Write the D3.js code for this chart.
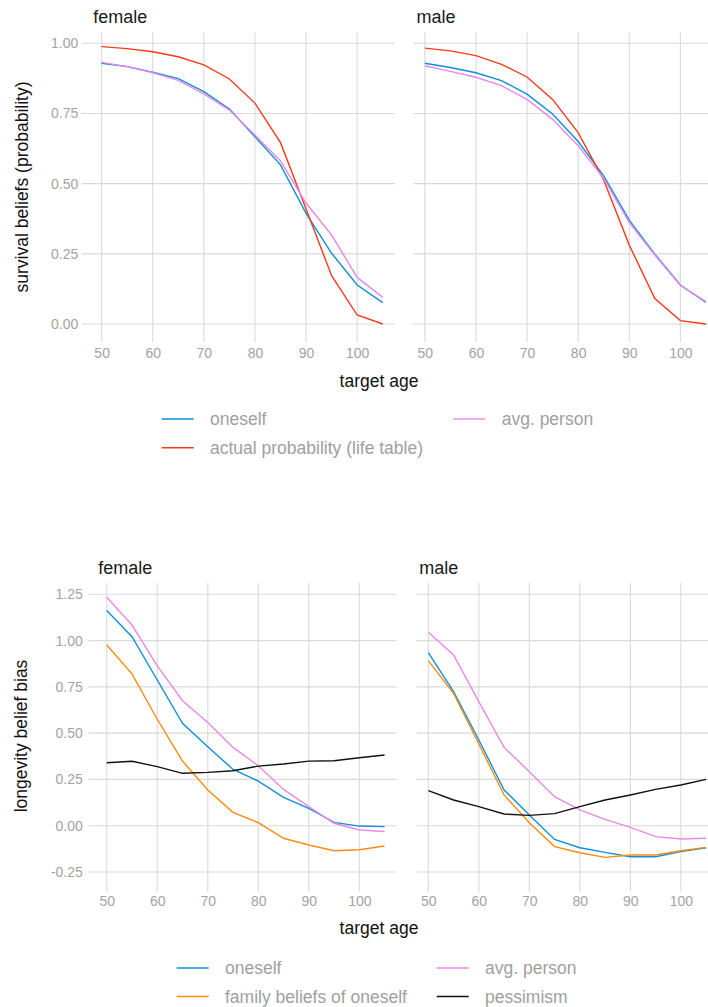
<!DOCTYPE html>
<html>
<head>
<meta charset="utf-8">
<script src="https://cdn.jsdelivr.net/npm/d3@7"></script>
<style>
  body { margin: 0; background: white; }
  text { font-family: "Liberation Sans", Arial, sans-serif; }
</style>
</head>
<body>
<main></main>
<script>
// target ages (x) and tick values
const AGES = [50, 55, 60, 65, 70, 75, 80, 85, 90, 95, 100, 105];
const X_TICKS = [50, 60, 70, 80, 90, 100];
const SURV_TICKS = [0, 0.25, 0.5, 0.75, 1];
const BIAS_TICKS = [-0.25, 0, 0.25, 0.5, 0.75, 1, 1.25];

// survival beliefs
const survFemaleOneself = [0.929, 0.917, 0.897, 0.874, 0.828, 0.766, 0.667, 0.567, 0.394, 0.252, 0.139, 0.076];
const survFemaleActual  = [0.988, 0.981, 0.970, 0.952, 0.923, 0.873, 0.787, 0.646, 0.410, 0.172, 0.032, 0.000];
const survFemaleAvg     = [0.932, 0.917, 0.895, 0.868, 0.820, 0.762, 0.673, 0.581, 0.430, 0.317, 0.166, 0.095];
const survMaleOneself   = [0.929, 0.914, 0.895, 0.867, 0.819, 0.748, 0.650, 0.528, 0.370, 0.249, 0.139, 0.077];
const survMaleActual    = [0.983, 0.973, 0.956, 0.925, 0.880, 0.800, 0.682, 0.513, 0.281, 0.091, 0.012, 0.000];
const survMaleAvg       = [0.920, 0.900, 0.879, 0.849, 0.800, 0.729, 0.635, 0.519, 0.361, 0.246, 0.137, 0.080];

// longevity belief bias
const biasFemaleOneself = [1.162, 1.021, 0.787, 0.553, 0.427, 0.304, 0.241, 0.153, 0.094, 0.018, -0.002, -0.005];
const biasFemaleFamily  = [0.976, 0.820, 0.575, 0.349, 0.193, 0.072, 0.016, -0.068, -0.104, -0.135, -0.130, -0.110];
const biasFemaleAvg     = [1.234, 1.084, 0.863, 0.675, 0.557, 0.423, 0.324, 0.196, 0.103, 0.013, -0.023, -0.031];
const biasFemalePess    = [0.340, 0.348, 0.319, 0.283, 0.288, 0.297, 0.322, 0.333, 0.349, 0.351, 0.367, 0.382];
const biasMaleOneself   = [0.935, 0.724, 0.463, 0.193, 0.058, -0.074, -0.119, -0.144, -0.168, -0.168, -0.140, -0.119];
const biasMaleFamily    = [0.892, 0.715, 0.441, 0.166, 0.016, -0.113, -0.146, -0.171, -0.158, -0.158, -0.135, -0.117];
const biasMaleAvg       = [1.045, 0.922, 0.670, 0.423, 0.292, 0.157, 0.085, 0.034, -0.009, -0.059, -0.072, -0.068];
const biasMalePess      = [0.189, 0.139, 0.103, 0.063, 0.056, 0.065, 0.103, 0.139, 0.166, 0.196, 0.220, 0.250];

const SURV_LABELS = ["oneself", "actual probability (life table)", "avg. person"];
const BIAS_LABELS = ["oneself", "family beliefs of oneself", "avg. person", "pessimism"];

const BLUE = "#0f8fd8", RED = "#f7391b", VIOLET = "#ea88ea", ORANGE = "#ff8a12", BLACK = "#111111";
const GRID = "#dadada";
const TICK_GREY = "#a3a3a3";
const LEGEND_GREY = "#a0a0a0";

var svg = d3.select("main").append("svg")
            .attr("width", 708)
            .attr("height", 1007)
            .style("display", "block");

function drawPanel (p) {
    var g = svg.append("g");
    var x = d3.scaleLinear().domain(p.xDomain).range([p.left, p.right]);
    var y = p.y;

    // grid
    g.selectAll(".hgrid").data(p.yTicks).enter().append("line")
     .attr("x1", p.left).attr("x2", p.right)
     .attr("y1", d => y(d)).attr("y2", d => y(d))
     .style("stroke", GRID).style("stroke-width", 1.1);
    g.selectAll(".vgrid").data(X_TICKS).enter().append("line")
     .attr("x1", d => x(d)).attr("x2", d => x(d))
     .attr("y1", p.top).attr("y2", p.bottom)
     .style("stroke", GRID).style("stroke-width", 1.1);

    // series
    var line = d3.line().x((d, i) => x(AGES[i])).y(d => y(d));
    p.series.forEach(function (s) {
        g.append("path")
         .datum(s.values)
         .attr("d", line)
         .style("fill", "none")
         .style("stroke", s.color)
         .style("stroke-width", 1.4);
    });

    // x axis labels
    var xAxis = g.append("g")
                 .attr("transform", "translate(0," + p.bottom + ")")
                 .call(d3.axisBottom(x).tickValues(X_TICKS).tickSize(0).tickPadding(p.xPad).tickFormat(d3.format("d")));
    xAxis.select(".domain").remove();
    xAxis.selectAll("text").style("fill", TICK_GREY).style("font-size", "14px")
         .style("font-family", "Liberation Sans, Arial, sans-serif");

    // y axis labels (left panels only)
    if (p.showY) {
        var yAxis = g.append("g")
                     .attr("transform", "translate(" + p.left + ",0)")
                     .call(d3.axisLeft(y).tickValues(p.yTicks).tickSize(0).tickPadding(p.yPad)
                                .tickFormat(d => d.toFixed(2)));
        yAxis.select(".domain").remove();
        yAxis.selectAll("text").style("fill", TICK_GREY).style("font-size", "14px")
             .style("font-family", "Liberation Sans, Arial, sans-serif");
    }

    // strip title
    g.append("text")
     .text(p.title)
     .attr("x", x(50) - p.titleOffset)
     .attr("y", p.titleY)
     .style("font-size", "18px")
     .style("fill", "#1a1a1a");
}

function drawLegend (items, cols, rowYs) {
    items.forEach(function (it, i) {
        var col = cols[it.col];
        var ry = rowYs[it.row];
        svg.append("line")
           .attr("x1", col.key).attr("x2", col.key + 32)
           .attr("y1", ry).attr("y2", ry)
           .style("stroke", it.color).style("stroke-width", 1.4);
        svg.append("text")
           .text(it.label)
           .attr("x", col.text).attr("y", ry).attr("dy", "0.35em")
           .style("font-size", "17.5px")
           .style("fill", LEGEND_GREY);
    });
}

function axisTitles (xTitleY, yTitleX, yTitleY, yTitle) {
    svg.append("text").text("target age")
       .attr("x", 379).attr("y", xTitleY)
       .style("text-anchor", "middle").style("font-size", "17.5px").style("fill", "#111");
    svg.append("text").text(yTitle)
       .attr("transform", "translate(" + yTitleX + "," + yTitleY + ") rotate(-90)")
       .attr("dy", "0.35em")
       .style("text-anchor", "middle").style("font-size", "17.5px").style("fill", "#111");
}

// ---- top chart: survival beliefs
var ySurv = d3.scaleLinear().domain([0, 1]).range([324, 43.3]);

drawPanel({
    title: "female", xDomain: [46.1, 107.4], left: 81.7, right: 395, top: 32.3, bottom: 342,
    y: ySurv, yTicks: SURV_TICKS, showY: true, yPad: 3.5, xPad: 5.6, titleOffset: 8.5, titleY: 23.3,
    series: [
        {values: survFemaleOneself, color: BLUE},
        {values: survFemaleActual, color: RED},
        {values: survFemaleAvg, color: VIOLET}
    ]
});
drawPanel({
    title: "male", xDomain: [47.75, 107.75], left: 413.3, right: 720, top: 32.3, bottom: 342,
    y: ySurv, yTicks: SURV_TICKS, showY: false, xPad: 5.6, titleOffset: 8.3, titleY: 23.3,
    series: [
        {values: survMaleOneself, color: BLUE},
        {values: survMaleActual, color: RED},
        {values: survMaleAvg, color: VIOLET}
    ]
});
axisTitles(387, 21.5, 187, "survival beliefs (probability)");
drawLegend([
    {label: SURV_LABELS[0], color: BLUE, col: 0, row: 0},
    {label: SURV_LABELS[1], color: RED, col: 0, row: 1},
    {label: SURV_LABELS[2], color: VIOLET, col: 1, row: 0}
], [{key: 161.7, text: 210}, {key: 453, text: 501.7}], [419, 447.7]);

// ---- bottom chart: longevity belief bias
var yBias = d3.scaleLinear().domain([0, 1.25]).range([825.7, 594.3]);

drawPanel({
    title: "female", xDomain: [46.35, 107.4], left: 88.3, right: 396.7, top: 582.7, bottom: 891.7,
    y: yBias, yTicks: BIAS_TICKS, showY: true, yPad: 5.5, xPad: 4.4, titleOffset: 8.4, titleY: 574.3,
    series: [
        {values: biasFemaleOneself, color: BLUE},
        {values: biasFemaleFamily, color: ORANGE},
        {values: biasFemaleAvg, color: VIOLET},
        {values: biasFemalePess, color: BLACK}
    ]
});
drawPanel({
    title: "male", xDomain: [47.7, 107.75], left: 416.7, right: 720, top: 582.7, bottom: 891.7,
    y: yBias, yTicks: BIAS_TICKS, showY: false, xPad: 4.4, titleOffset: 9, titleY: 574.3,
    series: [
        {values: biasMaleOneself, color: BLUE},
        {values: biasMaleFamily, color: ORANGE},
        {values: biasMaleAvg, color: VIOLET},
        {values: biasMalePess, color: BLACK}
    ]
});
axisTitles(934, 21, 736, "longevity belief bias");
drawLegend([
    {label: BIAS_LABELS[0], color: BLUE, col: 0, row: 0},
    {label: BIAS_LABELS[1], color: ORANGE, col: 0, row: 1},
    {label: BIAS_LABELS[2], color: VIOLET, col: 1, row: 0},
    {label: BIAS_LABELS[3], color: BLACK, col: 1, row: 1}
], [{key: 176.7, text: 225}, {key: 436.7, text: 485}], [968, 996.5]);
</script>
</body>
</html>
